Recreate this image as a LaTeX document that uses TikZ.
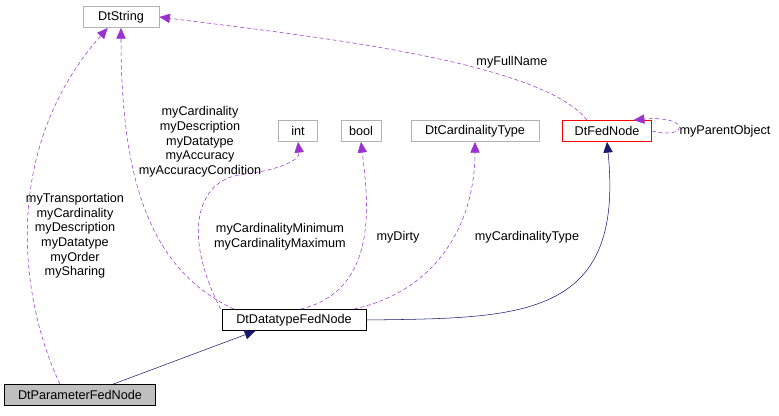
\documentclass[tikz,border=0pt]{standalone}
\usepackage{fontspec}
\setmainfont{Liberation Sans}
\usetikzlibrary{arrows.meta}
\definecolor{usecol}{HTML}{9A32CD}
\definecolor{inhcol}{HTML}{191970}

\tikzset{
  cls/.style={draw=#1,rectangle,minimum height=16pt,inner xsep=6pt,font=\fontsize{9.5}{11}\selectfont},
  cls/.default=black!30,
  use/.style={densely dashed,draw=usecol,-{Triangle[fill=usecol,length=8pt,width=7pt]}},
  inh/.style={draw=inhcol,-{Triangle[fill=inhcol,length=8pt,width=7pt]}},
  lbl/.style={font=\fontsize{9.5}{11}\selectfont,align=center}
}

\begin{document}
\begin{tikzpicture}[x=0.75pt,y=-0.75pt]
\useasboundingbox (0,0) rectangle (779,416);

\path   (121,17)  node (str) [cls,minimum width=57pt] {DtString}
        (298,131) node (int) [cls,minimum width=29pt] {int}
        (361,131) node (bool) [cls,minimum width=30pt] {bool}
        (475,131) node (card) [cls,minimum width=96pt] {DtCardinalityType}
        (607,131) node (fed) [cls=red,minimum width=67pt] {DtFedNode}
        (294,320) node (dt) [cls=black,minimum width=108pt] {DtDatatypeFedNode}
        (80,395)  node (par) [cls=black,fill=black!25,minimum width=113pt] {DtParameterFedNode};

% inheritance
\draw[inh] ([xshift=25pt]par.north) -- ([xshift=-29pt]dt.south);
\draw[inh] (dt.east) .. controls (520,318) and (625,320) .. (fed.south);

% usage
\draw[use] ([xshift=-15pt]par.north) .. controls (20,300) and (0,150) .. ([xshift=-10pt]str.south);
\draw[use] ([xshift=-45pt]dt.north) .. controls (150,270) and (121,180) .. (str.south);
\draw[use] ([xshift=-55pt]dt.north) .. controls (180,230) and (200,180) .. (240,175) .. controls (280,170) and (300,160) .. (int.south);
\draw[use] ([xshift=5pt]dt.north) .. controls (380,290) and (368,200) .. (bool.south);
\draw[use] ([xshift=45pt]dt.north) .. controls (440,290) and (475,220) .. (card.south);
\draw[use] ([xshift=-15pt]fed.north) .. controls (540,60) and (300,35) .. (str.east);
\draw[use] (fed.east) .. controls (690,140) and (690,115) .. ([xshift=20pt]fed.north);

\node[lbl] at (75,236) {myTransportation\\myCardinality\\myDescription\\myDatatype\\myOrder\\mySharing};
\node[lbl] at (200,142) {myCardinality\\myDescription\\myDatatype\\myAccuracy\\myAccuracyCondition};
\node[lbl] at (280,237) {myCardinalityMinimum\\myCardinalityMaximum};
\node[lbl] at (398,237) {myDirty};
\node[lbl] at (527,237) {myCardinalityType};
\node[lbl] at (512,62) {myFullName};
\node[lbl] at (725,131) {myParentObject};
\end{tikzpicture}
\end{document}
